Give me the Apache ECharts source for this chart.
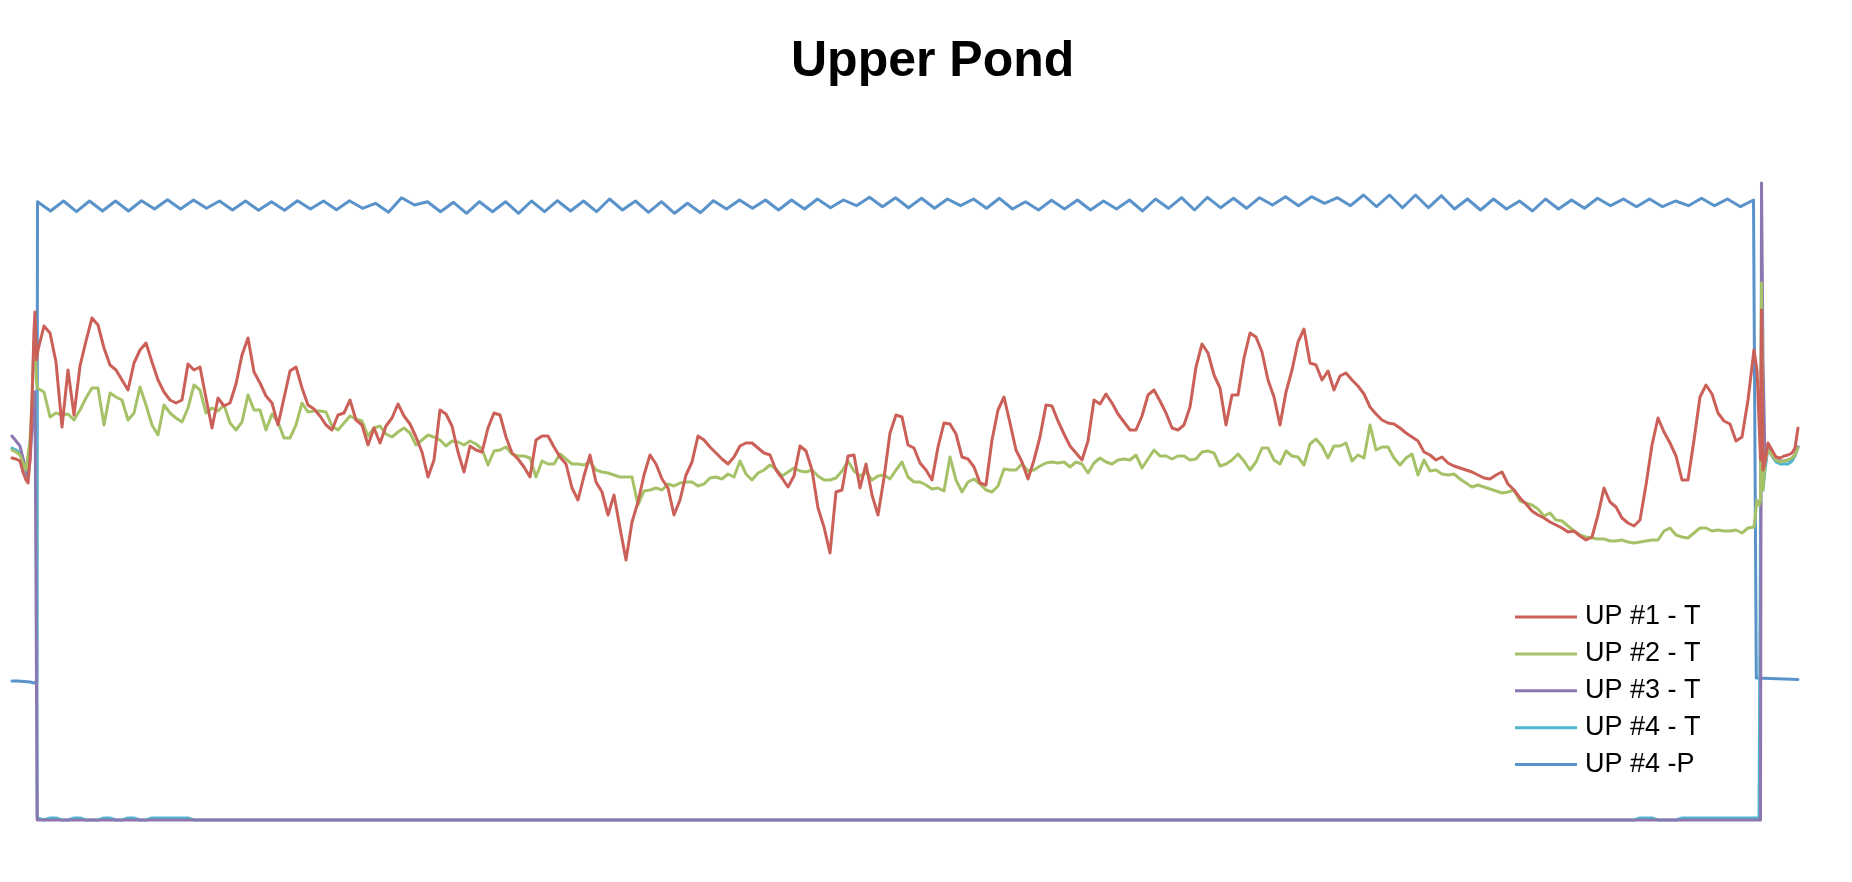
<!DOCTYPE html>
<html>
<head>
<meta charset="utf-8">
<script src="https://cdn.jsdelivr.net/npm/echarts@6/dist/echarts.min.js"></script>
<style>
html,body{margin:0;padding:0;background:#ffffff;}
#chart{width:1852px;height:882px;}
</style>
</head>
<body>
<div id="chart"></div>
<script>
// ---------------- DATA ----------------
// Time axis: hours since deployment. Values: logger reading (scaled units).
const seriesNames = ['UP #1 - T', 'UP #2 - T', 'UP #3 - T', 'UP #4 - T', 'UP #4 -P'];

// Temperature loggers: pre-deployment samples, main record (every 3 h), post-retrieval samples
const preHours = [-13, -11, -9, -7.5, -6, -5, -4, -3, -2, -1.5, -0.75, -0.4];
const mainStartHour = 0;
const mainStepHours = 3;
const postHours = [858.75, 859.5, 860.5, 861.25, 861.75, 862.5, 863.5, 865, 867, 869, 871, 873, 875, 877, 878.5, 880];

const up1Pre = [36.2, 36.1, 35.9, 34.8, 34.0, 33.7, 36.0, 42.0, 49.0, 50.8, 46.0, 46.5];
const up1Main = [
  47.0,49.4,48.7,45.8,39.3,45.0,40.5,45.4,47.9,50.2,
  49.5,47.2,45.5,45.0,44.0,43.0,45.7,47.0,47.7,45.8,
  44.0,42.8,42.0,41.7,42.0,45.6,45.0,45.3,42.2,39.2,
  42.2,41.4,41.7,43.6,46.5,48.2,44.8,43.7,42.4,41.7,
  39.5,42.2,44.9,45.3,43.2,41.5,41.1,40.4,39.5,39.0,
  40.5,40.7,42.0,40.0,39.5,37.5,39.2,37.7,39.4,40.2,
  41.6,40.4,39.6,38.3,36.8,34.3,36.0,41.0,40.6,39.4,
  36.8,34.8,37.4,37.0,36.8,39.2,40.7,40.5,38.3,36.7,
  36.1,35.3,34.3,38.0,38.4,38.4,37.3,36.3,35.6,33.2,
  32.0,34.4,36.5,33.8,32.8,30.5,32.5,29.2,26.0,29.8,
  31.8,34.5,36.5,35.6,34.1,33.2,30.5,32.0,34.5,35.8,
  38.4,38.0,37.3,36.7,36.1,35.6,36.3,37.4,37.7,37.7,
  37.2,36.7,36.5,35.0,34.2,33.3,34.4,37.4,36.9,35.0,
  31.2,29.3,26.7,32.8,33.0,36.4,36.5,33.2,35.6,32.5,
  30.5,34.2,38.7,40.5,40.3,37.5,37.2,35.7,35.0,34.0,
  37.3,39.7,39.6,38.6,36.3,36.1,35.3,33.7,33.5,38.0,
  41.0,42.3,39.7,37.0,35.8,34.1,36.0,38.3,41.5,41.4,
  39.9,38.6,37.4,36.7,36.0,37.9,42.0,41.6,42.6,41.7,
  40.6,39.8,39.0,39.0,40.4,42.5,43.0,41.9,40.7,39.2,
  39.0,39.5,41.3,45.3,47.6,46.7,44.5,43.2,39.5,42.5,
  42.5,46.2,48.7,48.3,46.8,44.0,42.3,39.5,42.8,45.0,
  47.8,49.1,45.7,45.5,44.0,44.9,43.0,44.4,44.7,44.0,
  43.4,42.6,41.3,40.6,40.0,39.7,39.6,39.2,38.7,38.3,
  37.9,36.8,36.5,36.0,36.3,35.7,35.4,35.2,35.0,34.8,
  34.5,34.2,34.1,34.5,34.8,33.6,33.0,32.2,31.6,30.9,
  30.5,30.2,29.8,29.5,29.2,28.8,28.9,28.4,28.0,28.3,
  30.5,33.2,31.8,31.3,30.2,29.7,29.4,30.0,33.5,37.5,
  40.2,38.8,37.7,36.4,34.0,34.0,38.0,42.3,43.5,42.6,
  40.7,39.9,39.6,37.9,38.3,42.0,47.0
];
const up1Post = [46.0, 45.0, 40.0, 36.0, 51.0, 35.0, 35.8, 37.7, 37.0, 36.3, 36.2, 36.4, 36.5, 36.7, 37.2, 39.2];

const up2Pre = [37.0, 36.8, 36.5, 35.7, 35.0, 34.8, 38.0, 42.0, 47.5, 49.0, 44.0, 43.2];
const up2Main = [
  43.2,42.8,40.3,40.7,40.5,40.6,40.0,41.0,42.2,43.2,
  43.2,39.5,42.7,42.3,42.0,40.0,40.7,43.3,41.5,39.5,
  38.5,41.5,40.7,40.2,39.8,41.2,43.5,43.0,40.7,41.2,
  40.9,41.5,39.7,39.0,39.8,42.5,41.0,41.0,39.0,40.6,
  39.8,38.2,38.2,39.5,41.7,40.8,40.9,40.9,40.8,39.4,
  39.0,39.7,40.4,40.1,39.9,38.4,39.2,39.4,38.6,38.3,
  38.8,39.2,38.7,37.5,38.0,38.5,38.3,38.0,37.4,37.9,
  37.8,37.5,37.9,37.6,37.1,35.5,36.9,37.0,37.3,36.6,
  36.4,36.4,36.2,34.3,35.9,35.6,35.6,36.6,36.1,35.6,
  35.6,35.5,35.8,35.0,34.8,34.7,34.5,34.3,34.3,34.3,
  31.5,32.9,33.0,33.2,33.0,33.6,33.4,33.7,33.8,33.8,
  33.4,33.6,34.2,34.3,34.1,34.6,34.3,35.9,34.6,34.0,
  34.7,35.0,35.5,35.1,34.4,34.8,35.2,34.9,34.8,35.0,
  34.4,34.0,34.0,34.2,34.9,35.9,34.9,34.4,34.8,34.0,
  34.4,34.5,34.1,35.0,35.8,34.3,33.8,33.8,33.5,33.1,
  33.2,32.9,36.3,34.0,32.8,33.8,34.1,33.6,33.0,32.8,
  33.4,35.1,35.0,35.0,35.6,34.9,35.0,35.4,35.7,35.8,
  35.7,35.8,35.3,35.8,35.6,34.7,35.7,36.2,35.8,35.6,
  36.0,36.1,36.0,36.5,35.2,36.1,37.0,36.4,36.4,36.1,
  36.4,36.4,36.0,36.1,36.8,36.9,36.7,35.4,35.6,36.0,
  36.6,35.9,35.0,35.8,37.2,37.2,36.0,35.6,36.9,36.4,
  36.3,35.5,37.6,38.1,37.4,36.2,37.4,37.4,37.7,35.9,
  36.5,36.2,39.5,37.0,37.3,37.3,36.2,35.5,36.2,36.6,
  34.5,36.0,34.9,35.0,34.6,34.5,34.6,34.1,33.7,33.3,
  33.5,33.3,33.1,32.9,32.7,32.8,33.0,31.9,31.7,31.5,
  31.1,30.4,30.7,30.0,29.9,29.4,28.9,28.5,28.3,28.2,
  28.1,28.1,27.9,27.9,28.0,27.8,27.7,27.8,27.9,28.0,
  28.0,28.9,29.2,28.5,28.3,28.2,28.7,29.2,29.2,28.9,
  29.0,28.9,28.9,29.0,28.7,29.2,29.3
];
const up2Post = [29.3, 32.0, 31.5, 32.0, 53.7, 33.0, 35.8, 37.0, 36.5, 36.0, 35.8, 35.9, 36.0, 36.2, 36.5, 37.2];

const up3Pre = [38.4, 37.9, 37.4, 36.2, 35.0, 34.4, 36.0, 39.0, 42.0, 42.8, 43.0, 0];
const up3Main = [
  0,0,0,0,0,0,0,0,0,0, 0,0,0,0,0,0,0,0,0,0, 0,0,0,0,0,0,0,0,0,0,
  0,0,0,0,0,0,0,0,0,0, 0,0,0,0,0,0,0,0,0,0, 0,0,0,0,0,0,0,0,0,0,
  0,0,0,0,0,0,0,0,0,0, 0,0,0,0,0,0,0,0,0,0, 0,0,0,0,0,0,0,0,0,0,
  0,0,0,0,0,0,0,0,0,0, 0,0,0,0,0,0,0,0,0,0, 0,0,0,0,0,0,0,0,0,0,
  0,0,0,0,0,0,0,0,0,0, 0,0,0,0,0,0,0,0,0,0, 0,0,0,0,0,0,0,0,0,0,
  0,0,0,0,0,0,0,0,0,0, 0,0,0,0,0,0,0,0,0,0, 0,0,0,0,0,0,0,0,0,0,
  0,0,0,0,0,0,0,0,0,0, 0,0,0,0,0,0,0,0,0,0, 0,0,0,0,0,0,0,0,0,0,
  0,0,0,0,0,0,0,0,0,0, 0,0,0,0,0,0,0,0,0,0, 0,0,0,0,0,0,0,0,0,0,
  0,0,0,0,0,0,0,0,0,0, 0,0,0,0,0,0,0,0,0,0, 0,0,0,0,0,0,0,0,0,0,
  0,0,0,0,0,0,0,0,0,0, 0,0,0,0,0,0,0
];
const up3Post = [0, 0, 0, 0, 63.7, 46.0, 36.2, 37.2, 36.5, 36.0, 35.9, 35.9, 36.0, 36.2, 36.5, 37.3];

const up4TPre = [37.2, 37.0, 36.7, 35.8, 34.8, 34.2, 37.0, 40.0, 42.0, 42.5, 42.8, 0.2];
const up4TMain = [
  0,0,0.2,0.2,0,0,0.2,0.2,0,0, 0,0.2,0.2,0,0,0.2,0.2,0,0,0.2, 0.2,0.2,0.2,0.2,0.2,0.2,0,0,0,0,
  0,0,0,0,0,0,0,0,0,0, 0,0,0,0,0,0,0,0,0,0, 0,0,0,0,0,0,0,0,0,0,
  0,0,0,0,0,0,0,0,0,0, 0,0,0,0,0,0,0,0,0,0, 0,0,0,0,0,0,0,0,0,0,
  0,0,0,0,0,0,0,0,0,0, 0,0,0,0,0,0,0,0,0,0, 0,0,0,0,0,0,0,0,0,0,
  0,0,0,0,0,0,0,0,0,0, 0,0,0,0,0,0,0,0,0,0, 0,0,0,0,0,0,0,0,0,0,
  0,0,0,0,0,0,0,0,0,0, 0,0,0,0,0,0,0,0,0,0, 0,0,0,0,0,0,0,0,0,0,
  0,0,0,0,0,0,0,0,0,0, 0,0,0,0,0,0,0,0,0,0, 0,0,0,0,0,0,0,0,0,0,
  0,0,0,0,0,0,0,0,0,0, 0,0,0,0,0,0,0,0,0,0, 0,0,0,0,0,0,0,0,0,0,
  0,0,0,0,0,0,0,0,0,0, 0,0,0,0,0,0,0,0,0,0, 0,0,0,0,0,0,0,0.2,0.2,0.2,
  0,0,0,0,0.2,0.2,0.2
];
const up4TPost = [0.2, 0.2, 0.2, 0.2, 49.0, 33.0, 35.0, 37.2, 36.4, 35.8, 35.6, 35.6, 35.6, 35.9, 36.4, 37.3];

// Pressure logger: pre-deployment, main record (every 6.5 h, tidal highs and lows), post-retrieval
const pressPreHours = [-13, -10, -7, -4, -2, -0.55];
const pressPre = [13.9, 13.9, 13.85, 13.8, 13.7, 13.9];
const pressStartHour = -0.25;
const pressStepHours = 6.5;
const pressMain = [
  61.83,60.9,61.9,60.83,61.9,60.9,61.9,60.9,61.93,61.1,
  62.03,61.1,62.0,61.17,61.9,61.0,61.9,60.97,61.83,60.97,
  61.93,61.1,61.9,61.03,61.93,61.17,61.67,60.77,62.23,61.5,
  61.83,60.83,61.77,60.67,61.83,60.83,61.83,60.67,61.9,60.83,
  61.93,60.9,61.9,60.83,62.1,61.0,61.9,60.77,61.83,60.67,
  61.67,60.73,61.93,61.1,62.0,61.17,62.0,61.0,62.0,61.1,
  62.1,61.23,62.0,61.43,62.27,61.33,62.23,61.23,62.17,61.17,
  62.1,61.43,62.1,61.17,62.17,61.1,61.83,61.0,61.97,61.1,
  62.0,61.0,61.9,61.1,62.0,60.9,62.1,61.17,62.23,61.0,
  62.27,61.23,62.17,61.17,62.23,61.5,62.33,61.43,62.33,61.67,
  62.23,61.43,62.5,61.33,62.5,61.23,62.5,61.23,62.43,61.1,
  62.1,61.0,62.1,61.1,61.9,60.9,62.1,61.1,62.0,61.17,
  62.17,61.43,62.1,61.33,62.1,61.33,61.9,61.43,62.17,61.43,
  62.1,61.33,62.0
];
const pressPostHours = [858.75, 859.15, 866, 873.5, 880];
const pressPost = [61.8, 14.2, 14.15, 14.1, 14.05];

const seriesColors = ['#CB6058', '#A6C268', '#8D77B0', '#4FB6D0', '#5A93CA'];

// ---------------- BUILD ----------------
function build(preH, preV, t0, dt, mainV, postH, postV) {
  const out = [];
  preH.forEach((h, i) => out.push([h, preV[i]]));
  mainV.forEach((v, i) => out.push([t0 + i * dt, v]));
  postH.forEach((h, i) => out.push([h, postV[i]]));
  return out;
}

const datasets = [
  build(preHours, up1Pre, mainStartHour, mainStepHours, up1Main, postHours, up1Post),
  build(preHours, up2Pre, mainStartHour, mainStepHours, up2Main, postHours, up2Post),
  build(preHours, up3Pre, mainStartHour, mainStepHours, up3Main, postHours, up3Post),
  build(preHours, up4TPre, mainStartHour, mainStepHours, up4TMain, postHours, up4TPost),
  build(pressPreHours, pressPre, pressStartHour, pressStepHours, pressMain, pressPostHours, pressPost)
];
const zOrder = [6, 5, 4, 3, 2];

const chart = echarts.init(document.getElementById('chart'), null, {renderer: 'canvas'});
chart.setOption({
  animation: false,
  backgroundColor: '#ffffff',
  title: {
    text: 'Upper Pond',
    left: 786,
    top: 27,
    padding: 5,
    textStyle: {
      fontFamily: 'Liberation Sans, Arial, sans-serif',
      fontSize: 50,
      fontWeight: 'bold',
      color: '#000000',
      lineHeight: 60
    }
  },
  legend: {
    orient: 'vertical',
    left: 1515,
    top: 602,
    padding: 0,
    itemGap: 6.9,
    itemWidth: 62,
    itemHeight: 3,
    icon: 'rect',
    data: seriesNames,
    textStyle: {
      fontFamily: 'Liberation Sans, Arial, sans-serif',
      fontSize: 27,
      lineHeight: 30,
      color: '#000000',
      padding: [0, 0, 0, 3]
    }
  },
  grid: {left: 12, right: 54, top: 180, bottom: 62, containLabel: false},
  xAxis: {
    type: 'value', min: -13, max: 880, show: false,
    splitLine: {show: false}
  },
  yAxis: {
    type: 'value', min: 0, max: 64, show: false,
    splitLine: {show: false}
  },
  series: seriesNames.map((name, k) => ({
    name: name,
    type: 'line',
    data: datasets[k],
    symbol: 'none',
    showSymbol: false,
    z: zOrder[k],
    silent: true,
    clip: false,
    color: seriesColors[k],
    itemStyle: {color: seriesColors[k]},
    lineStyle: {width: 3, color: seriesColors[k], cap: 'round', join: 'round'}
  }))
});
</script>
</body>
</html>
